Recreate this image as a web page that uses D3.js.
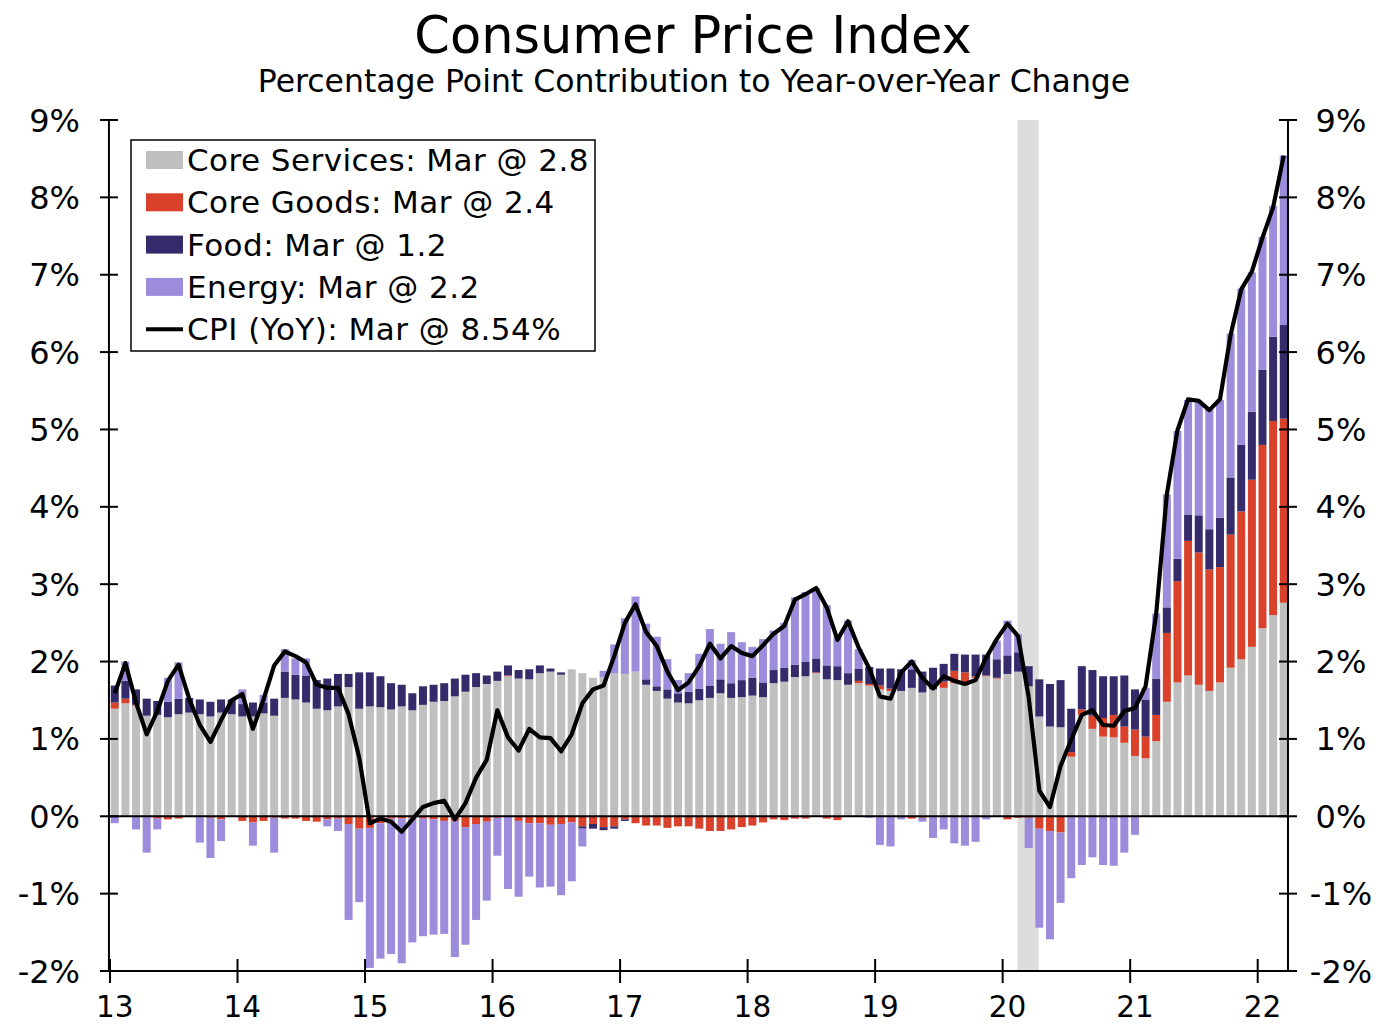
<!DOCTYPE html>
<html><head><meta charset="utf-8">
<script src="https://cdn.jsdelivr.net/npm/d3@7"></script>
<style>
body{margin:0;background:#fff}
text{font-family:"DejaVu Sans",Verdana,sans-serif;fill:#000}
</style>
</head><body>
<svg id="c" width="1384" height="1025"></svg>
<script>
// ---------- DATA (monthly, Jan 2013 - Mar 2022, percentage points) ----------
const coreServices = [
1.39,1.46,1.43,1.30,1.31,1.28,1.32,1.34,1.32,1.29,1.34,1.32,
1.29,1.29,1.33,1.30,1.53,1.51,1.47,1.39,1.37,1.42,1.67,1.39,
1.42,1.41,1.38,1.42,1.37,1.44,1.48,1.49,1.55,1.61,1.67,1.71,
1.75,1.81,1.78,1.77,1.85,1.87,1.83,1.90,1.85,1.79,1.80,1.85,
1.84,1.87,1.70,1.62,1.52,1.47,1.46,1.50,1.53,1.59,1.53,1.54,
1.56,1.54,1.72,1.74,1.80,1.81,1.85,1.77,1.76,1.70,1.72,1.69,
1.64,1.62,1.62,1.66,1.60,1.64,1.66,1.72,1.74,1.79,1.81,1.78,
1.84,1.87,1.68,1.29,1.16,1.15,0.77,1.31,1.13,1.03,1.02,0.95,
0.78,0.75,0.97,1.48,1.73,1.82,1.70,1.62,1.73,1.92,2.03,2.19,
2.43,2.60,2.76];
const coreGoods = [
0.08,0.06,0.01,-0.01,-0.03,-0.04,-0.03,-0.01,-0.01,-0.02,-0.04,-0.01,
-0.06,-0.08,-0.06,-0.02,-0.03,-0.03,-0.06,-0.07,-0.04,-0.03,-0.10,-0.16,
-0.15,-0.09,-0.03,-0.03,-0.02,-0.03,-0.04,-0.06,-0.06,-0.14,-0.10,-0.07,
-0.02,0.01,-0.06,-0.09,-0.09,-0.11,-0.10,-0.08,-0.13,-0.10,-0.14,-0.13,
-0.04,-0.09,-0.12,-0.12,-0.15,-0.13,-0.13,-0.16,-0.19,-0.19,-0.17,-0.14,
-0.12,-0.08,-0.04,-0.05,-0.03,-0.03,0.01,-0.03,-0.05,0.00,0.03,0.02,
0.05,0.03,0.00,-0.03,-0.02,0.00,0.08,0.16,0.12,0.02,0.01,0.01,
-0.04,-0.02,-0.02,-0.16,-0.19,-0.21,0.06,0.07,0.17,0.24,0.29,0.21,
0.34,0.28,0.34,0.89,1.31,1.74,1.71,1.57,1.49,1.72,1.91,2.16,
2.37,2.51,2.38];
const food = [
0.22,0.23,0.20,0.22,0.18,0.20,0.20,0.19,0.19,0.19,0.17,0.19,
0.16,0.18,0.14,0.22,0.34,0.32,0.35,0.37,0.41,0.42,0.17,0.47,
0.44,0.40,0.34,0.28,0.22,0.24,0.22,0.23,0.23,0.22,0.18,0.11,
0.12,0.13,0.11,0.13,0.10,0.04,0.03,0.00,-0.03,-0.06,-0.04,-0.03,
-0.02,0.00,0.07,0.06,0.12,0.12,0.15,0.15,0.16,0.18,0.19,0.22,
0.23,0.19,0.17,0.18,0.16,0.19,0.18,0.18,0.18,0.15,0.16,0.22,
0.22,0.26,0.28,0.24,0.27,0.28,0.23,0.22,0.23,0.28,0.27,0.24,
0.24,0.25,0.26,0.48,0.55,0.61,0.56,0.56,0.59,0.54,0.50,0.66,
0.52,0.48,0.47,0.33,0.29,0.34,0.48,0.52,0.64,0.74,0.86,0.88,
0.97,1.09,1.21];
const energy = [
-0.09,0.25,-0.17,-0.46,-0.14,0.31,0.47,0.00,-0.33,-0.52,-0.28,0.00,
0.19,-0.30,0.10,-0.45,0.29,0.21,0.22,0.00,-0.09,-0.16,-1.24,-0.95,
-1.81,-1.75,-1.75,-1.87,-1.61,-1.52,-1.49,-1.46,-1.76,-1.52,-1.24,-1.02,
-0.49,-0.94,-0.98,-0.69,-0.83,-0.80,-0.92,-0.76,-0.23,0.00,0.08,0.37,
0.72,0.97,0.72,0.64,0.39,0.17,0.24,0.45,0.73,0.46,0.66,0.49,
0.40,0.56,0.51,0.58,0.87,0.90,0.91,0.78,0.38,0.68,0.25,-0.02,
-0.37,-0.39,-0.04,0.12,-0.05,-0.28,-0.17,-0.35,-0.38,-0.33,-0.04,0.24,
0.45,0.23,-0.39,-1.28,-1.40,-0.91,-0.80,-0.63,-0.53,-0.63,-0.64,-0.47,
-0.24,0.15,0.84,1.46,1.65,1.48,1.46,1.57,1.52,1.86,2.02,1.80,
1.72,1.69,2.19];
const cpi = [
1.59,1.98,1.47,1.06,1.36,1.75,1.96,1.52,1.18,0.96,1.24,1.50,
1.58,1.13,1.51,1.95,2.13,2.07,1.99,1.70,1.66,1.66,1.32,0.76,
-0.09,-0.03,-0.07,-0.20,-0.04,0.12,0.17,0.20,-0.04,0.17,0.50,0.73,
1.37,1.02,0.85,1.13,1.02,1.01,0.84,1.06,1.46,1.64,1.69,2.07,
2.50,2.74,2.38,2.20,1.87,1.63,1.73,1.94,2.23,2.04,2.20,2.11,
2.07,2.21,2.36,2.46,2.80,2.87,2.95,2.70,2.28,2.52,2.18,1.91,
1.55,1.52,1.86,2.00,1.79,1.65,1.81,1.75,1.71,1.76,2.05,2.29,
2.49,2.33,1.54,0.33,0.12,0.65,0.99,1.31,1.37,1.18,1.17,1.36,
1.40,1.68,2.62,4.16,4.99,5.39,5.37,5.25,5.39,6.22,6.81,7.04,
7.48,7.87,8.54];
const yearLabels = ["13","14","15","16","17","18","19","20","21","22"];
const yTicks = [-2,-1,0,1,2,3,4,5,6,7,8,9];
const recession = [85.4, 87.4]; // month index range (Feb-Apr 2020)
const legendLabels = ["Core Services: Mar @ 2.8","Core Goods: Mar @ 2.4","Food: Mar @ 1.2","Energy: Mar @ 2.2","CPI (YoY): Mar @ 8.54%"];
const keys = ["svc","goods","food","energy"];
const colors = ["#bfbfbf","#d9412b","#352b6a","#9d8bdb"];

// ---------- CHART ----------
const svg = d3.select("#c");
const x = d3.scaleLinear().domain([0,108]).range([110,1257.7]);
const y = d3.scaleLinear().domain([-2,9]).range([971,120]);
const xL = x(-0.1), xR = x(110.85);
const off = 0.45, bw = 8;

svg.append("rect")
  .attr("x", x(recession[0])).attr("width", x(recession[1]) - x(recession[0]))
  .attr("y", y(9)).attr("height", y(-2) - y(9)).attr("fill", "#dddddd");

const data = coreServices.map((d,i)=>({i, svc:d, goods:coreGoods[i], food:food[i], energy:energy[i]}));
const series = d3.stack().keys(keys).offset(d3.stackOffsetDiverging)(data);

svg.append("g").selectAll("g").data(series).join("g")
  .attr("fill",(d,i)=>colors[i])
  .selectAll("rect").data(d=>d).join("rect")
  .attr("x", d=>x(d.data.i+off)-bw/2).attr("width", bw)
  .attr("y", d=>y(Math.max(d[0],d[1])))
  .attr("height", d=>Math.abs(y(d[0])-y(d[1])));

// zero line
svg.append("line").attr("x1",xL).attr("x2",xR).attr("y1",y(0)).attr("y2",y(0))
  .attr("stroke","#000").attr("stroke-width",2);

// CPI line
svg.append("path").datum(cpi)
  .attr("d", d3.line().x((d,i)=>x(i+off)).y(d=>y(d)))
  .attr("fill","none").attr("stroke","#000").attr("stroke-width",4.2)
  .attr("stroke-linejoin","round");

// axes frame
const ax = svg.append("g").attr("stroke","#000").attr("stroke-width",2);
ax.append("line").attr("x1",xL).attr("x2",xL).attr("y1",y(9)).attr("y2",y(-2));
ax.append("line").attr("x1",xR).attr("x2",xR).attr("y1",y(9)).attr("y2",y(-2));
ax.append("line").attr("x1",xL-9).attr("x2",xR+9).attr("y1",y(-2)).attr("y2",y(-2));
yTicks.forEach(t=>{
  ax.append("line").attr("x1",xL-9).attr("x2",xL+9).attr("y1",y(t)).attr("y2",y(t));
  ax.append("line").attr("x1",xR-9).attr("x2",xR+9).attr("y1",y(t)).attr("y2",y(t));
  svg.append("text").attr("x",80).attr("y",y(t)).attr("dy","0.36em")
    .attr("text-anchor","end").attr("font-size",32).text(t+"%");
  svg.append("text").attr("x",1341).attr("y",y(t)).attr("dy","0.36em")
    .attr("text-anchor","middle").attr("font-size",32).text(t+"%");
});
yearLabels.forEach((lab,j)=>{
  ax.append("line").attr("x1",x(12*j)).attr("x2",x(12*j)).attr("y1",y(-2)-12).attr("y2",y(-2)+12);
  svg.append("text").attr("x",x(12*j+off)).attr("y",1017)
    .attr("text-anchor","middle").attr("font-size",29.5).text(lab);
});

// titles
svg.append("text").attr("x",693).attr("y",53).attr("text-anchor","middle")
  .attr("font-size",51).text("Consumer Price Index");
svg.append("text").attr("x",694).attr("y",92).attr("text-anchor","middle")
  .attr("font-size",31.5).text("Percentage Point Contribution to Year-over-Year Change");

// legend
const lg = svg.append("g");
lg.append("rect").attr("x",131).attr("y",140).attr("width",464).attr("height",211)
  .attr("fill","#fff").attr("stroke","#000").attr("stroke-width",1.5);
legendLabels.forEach((lab,i)=>{
  const cy = 160 + i*42.3;
  if (i<4) lg.append("rect").attr("x",146).attr("y",cy-9).attr("width",37).attr("height",18).attr("fill",colors[i]);
  else lg.append("line").attr("x1",146).attr("x2",183).attr("y1",cy).attr("y2",cy).attr("stroke","#000").attr("stroke-width",4);
  lg.append("text").attr("x",187).attr("y",cy).attr("dy","0.36em").attr("font-size",31)
    .attr("letter-spacing","0.45px").text(lab);
});
</script>
</body></html>
